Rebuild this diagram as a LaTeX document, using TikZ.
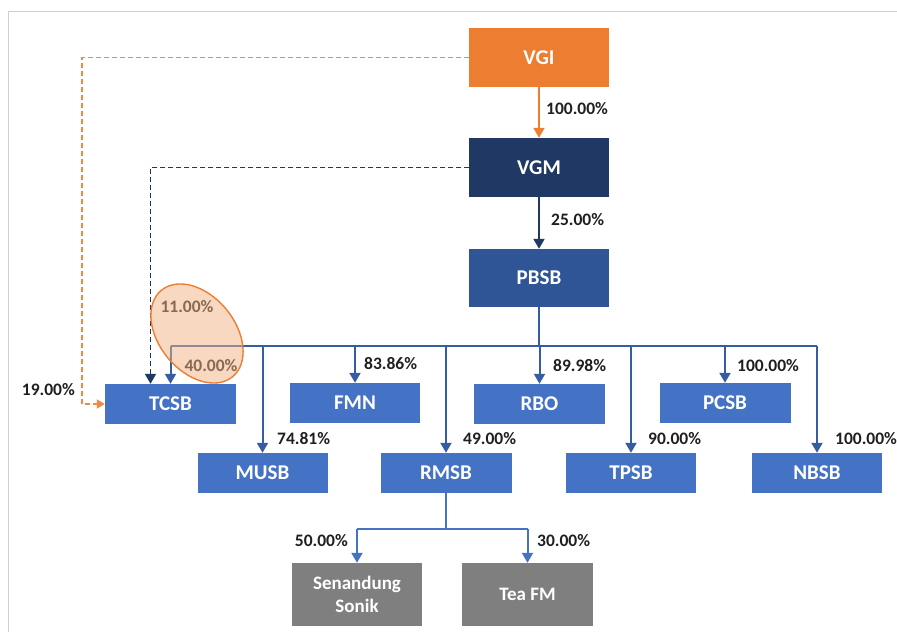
\documentclass[tikz,border=0pt]{standalone}
\usepackage{fontspec}
\setmainfont{Carlito}
\usetikzlibrary{shapes.geometric,arrows.meta}
\definecolor{cOrange}{HTML}{ED7D31}
\definecolor{cNavy}{HTML}{203864}
\definecolor{cDark}{HTML}{2F5597}
\definecolor{cBlue}{HTML}{4472C4}
\definecolor{cGray}{HTML}{7F7F7F}
\definecolor{cPeach}{HTML}{F4B183}
\definecolor{cFrame}{HTML}{CFCFCF}
\definecolor{cLine}{HTML}{345DA6}
\begin{document}
\begin{tikzpicture}[x=1pt,y=-1pt,
  box/.style={rectangle, inner sep=0pt, text=white, fill=cBlue,
    font=\fontsize{21}{24}\selectfont\bfseries,
    minimum width=131pt, minimum height=40pt},
  topbox/.style={box, minimum width=140pt, minimum height=59pt},
  graybox/.style={box, fill=cGray, minimum width=131pt, minimum height=63pt,
    align=center, font=\fontsize{19}{23}\selectfont\bfseries},
  pct/.style={inner sep=0pt, font=\fontsize{17.5}{20}\selectfont\bfseries, text=black!88},
  tip/.style={-{Triangle[width=11pt,length=10pt]}},
  conn/.style={tip, line width=2pt, draw=cLine},
  lowconn/.style={tip, line width=2pt, draw=cBlue},
  dashconn/.style={line width=1.8pt, dash pattern=on 5pt off 3pt},
]
\useasboundingbox (0,0) rectangle (897,632);
% frame
\draw[cFrame, line width=1pt] (8,632) -- (8,11) -- (897,11);

% top boxes
\node[topbox, fill=cOrange] (VGI) at (539,57.5) {VGI};
\node[topbox, fill=cNavy] (VGM) at (539,167.5) {VGM};
\node[topbox, fill=cDark, minimum height=58pt] (PBSB) at (539,278) {PBSB};

% level 1
\node[box] (TCSB) at (170.5,404) {TCSB};
\node[box, minimum width=130pt] (FMN) at (355,403) {FMN};
\node[box] (RBO) at (539.5,404) {RBO};
\node[box] (PCSB) at (725,403) {PCSB};
% level 2
\node[box, minimum width=130pt] (MUSB) at (262.5,473) {MUSB};
\node[box] (RMSB) at (446,473) {RMSB};
\node[box, minimum width=130pt] (TPSB) at (631,473) {TPSB};
\node[box, minimum width=130pt] (NBSB) at (817,473) {NBSB};
% level 3
\node[graybox, minimum width=130pt] (SS) at (357,594.5) {Senandung\\Sonik};
\node[graybox] (TEA) at (527.5,594.5) {Tea FM};

% coordinates
\coordinate (bus) at (0,346);
\coordinate (sub) at (0,529);
\coordinate (oleft) at (82,0);
\coordinate (TCin) at ([xshift=-20pt]TCSB.north);

% main links
\draw[line width=2pt, draw=cOrange, -{Triangle[width=11pt,length=10pt,fill=cOrange]}] (VGI) -- (VGM);
\draw[tip, line width=2pt, draw=cNavy] (VGM) -- (PBSB);

% bus
\draw[line width=2pt, cLine] (PBSB.south) -- (PBSB.south |- bus);
\draw[line width=2pt, cLine] (TCSB.north |- bus) -- (NBSB.north |- bus);
\foreach \n in {TCSB,FMN,RBO,PCSB,MUSB,RMSB,TPSB,NBSB}{
  \draw[conn] (\n.north |- bus) -- (\n.north);
}

% dashed links
\draw[dashconn, cOrange!90!white, -{Triangle[width=9pt,length=8pt]}] (VGI.west) -- (VGI.west -| oleft) |- (TCSB.west);
\draw[dashconn, cNavy, tip] (VGM.west) -| (TCin);

% RMSB children
\draw[line width=2pt, cBlue] (RMSB.south) -- (RMSB.south |- sub);
\draw[line width=2pt, cBlue] (SS.north |- sub) -- (TEA.north |- sub);
\draw[lowconn] (SS.north |- sub) -- (SS.north);
\draw[lowconn] (TEA.north |- sub) -- (TEA.north);

% labels
\node[pct, anchor=west] (l1) at (546,109) {100.00\%};
\node[pct, anchor=west] (l2) at (551,220) {25.00\%};
\node[pct, anchor=west] (l3) at (364,364) {83.86\%};
\node[pct, anchor=west] (l4) at (553,366) {89.98\%};
\node[pct, anchor=west] (l5) at (737,366) {100.00\%};
\node[pct, anchor=west] (l6) at (277,439) {74.81\%};
\node[pct, anchor=west] (l7) at (463,439) {49.00\%};
\node[pct, anchor=west] (l8) at (648,439) {90.00\%};
\node[pct, anchor=west] (l9) at (835,439) {100.00\%};
\node[pct, anchor=east] (l10) at (75,390) {19.00\%};
\node[pct, anchor=east] (l11) at (348,541) {50.00\%};
\node[pct, anchor=west] (l12) at (537,541) {30.00\%};
\node[pct] (l13) at (187,307) {11.00\%};
\node[pct] (l14) at (211,366) {40.00\%};

% highlight ellipse
\node[ellipse, inner sep=0pt, outer sep=0pt, minimum width=112pt, minimum height=76pt,
  rotate=-50.6, draw=cOrange, line width=1.4pt, fill=cPeach, fill opacity=0.5]
  (hl) at (197,333.5) {};
\end{tikzpicture}
\end{document}
